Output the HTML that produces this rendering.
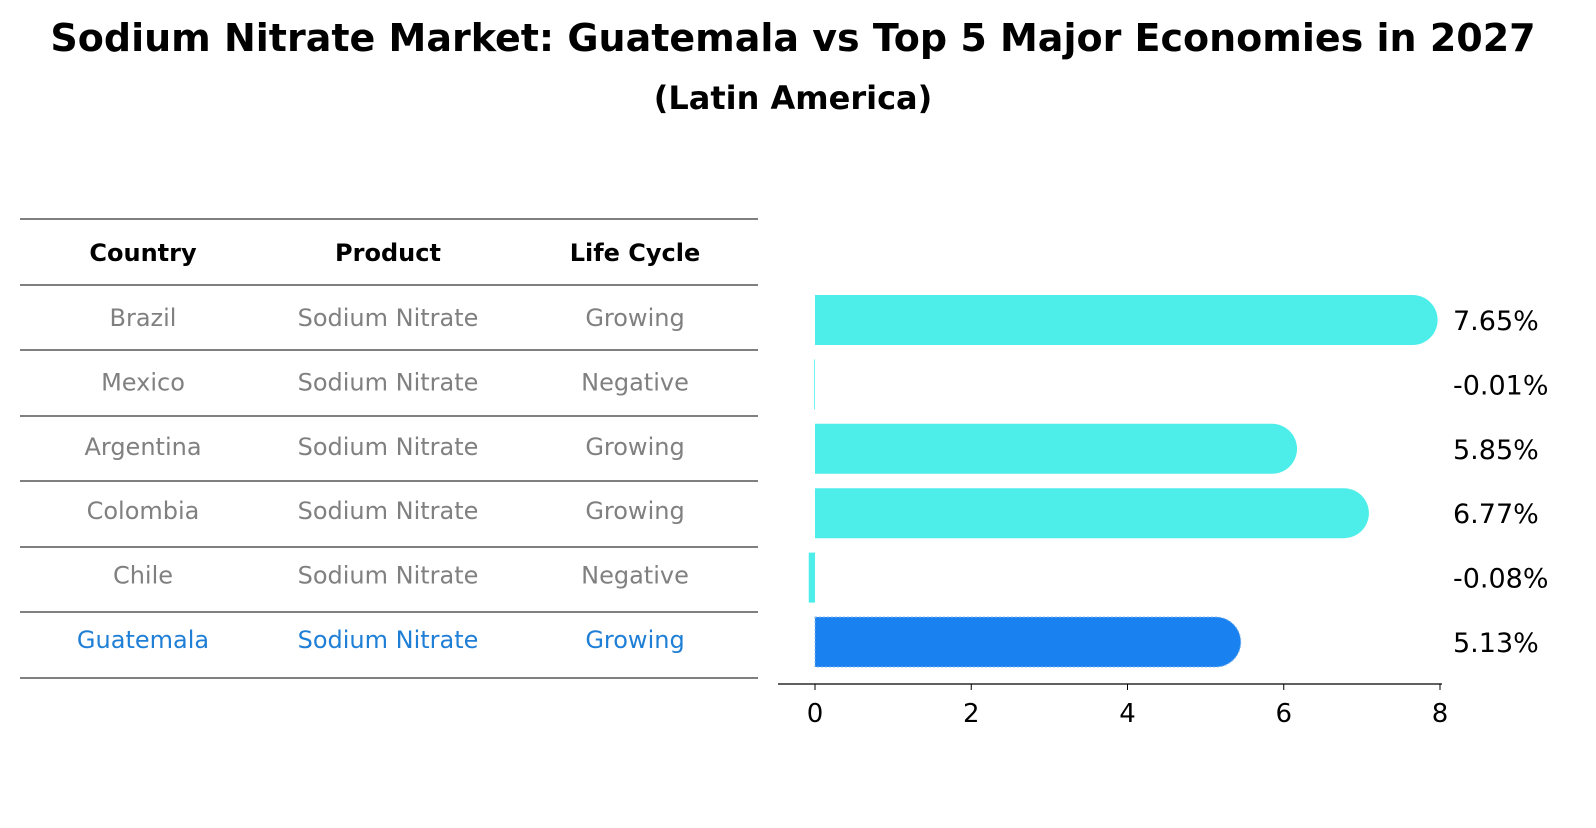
<!DOCTYPE html>
<html><head><meta charset="utf-8"><style>
body{margin:0;background:#fff;width:1596px;height:823px;overflow:hidden;font-family:"Liberation Sans","DejaVu Sans",sans-serif}
svg text{font-family:"DejaVu Sans","Liberation Sans",sans-serif}
</style></head><body>
<svg id="chart" width="1596" height="823">
<text x="793" y="51" text-anchor="middle" font-size="38" font-weight="bold">Sodium Nitrate Market: Guatemala vs Top 5 Major Economies in 2027</text>
<text x="793" y="109" text-anchor="middle" font-size="32" font-weight="bold">(Latin America)</text>
<g id="table"></g>
<g id="bars"></g>
</svg>
<script>
const countries=["Brazil","Mexico","Argentina","Colombia","Chile","Guatemala"];
const products=["Sodium Nitrate","Sodium Nitrate","Sodium Nitrate","Sodium Nitrate","Sodium Nitrate","Sodium Nitrate"];
const lifeCycles=["Growing","Negative","Growing","Growing","Negative","Growing"];
const growth=[7.65,-0.01,5.85,6.77,-0.08,5.13];
const ticks=[0,2,4,6,8];
const NS="http://www.w3.org/2000/svg";
function mk(t,a,p){const e=document.createElementNS(NS,t);for(const k in a)e.setAttribute(k,a[k]);p.appendChild(e);return e;}
const tbl=document.getElementById('table'),bars=document.getElementById('bars');
const xs=v=>815+v*(1440-815)/8;
const rowY=i=>320+i*64.4;
const lines=[219,285,350,416,481,547,612,678];
lines.forEach(y=>{const l=mk('line',{x1:20,x2:758,y1:y,y2:y,stroke:'#000','stroke-width':1},tbl);

});
const cx=[143,388,635];
["Country","Product","Life Cycle"].forEach((h,j)=>{const t=mk('text',{x:cx[j],y:261,'text-anchor':'middle','font-size':24,'font-weight':'bold'},tbl);t.textContent=h;

});
countries.forEach((c,i)=>{const col=c==="Guatemala"?"#1f7fd6":"#808080";
[c,products[i],lifeCycles[i]].forEach((v,j)=>{const t=mk('text',{x:cx[j],y:rowY(i)+6,'text-anchor':'middle','font-size':24,fill:col},tbl);t.textContent=v;

});});
countries.forEach((c,i)=>{const v=growth[i],y=rowY(i),h=50,r=25;
const col=c==="Guatemala"?"#1a82f0":"#4deeea";
const x0=xs(0),x1=xs(v);
let el;
if(v>0.05){el=mk('path',{d:`M${x0},${y-h/2}H${x1}A${r},${r} 0 0 1 ${x1},${y+h/2}H${x0}Z`,fill:col},bars);}
else{el=mk('rect',{x:Math.min(x0,x1),y:y-h/2,width:Math.max(Math.abs(x1-x0),0.1),height:h,fill:col},bars);}
if(c==="Guatemala")el.setAttribute('stroke','#8ab8ea'),el.setAttribute('stroke-dasharray','2,2');


const t=mk('text',{x:1453,y:y+10,'font-size':27},bars);t.textContent=v.toFixed(2)+'%';

});
const ax=mk('line',{x1:778,x2:1442,y1:684,y2:684,stroke:'#000','stroke-width':1.3},bars);


ticks.forEach(v=>{const tk=mk('line',{x1:xs(v),x2:xs(v),y1:684,y2:690,stroke:'#000'},bars);


const t=mk('text',{x:xs(v),y:722,'text-anchor':'middle','font-size':26},bars);t.textContent=v;

});
</script>
</body></html>
